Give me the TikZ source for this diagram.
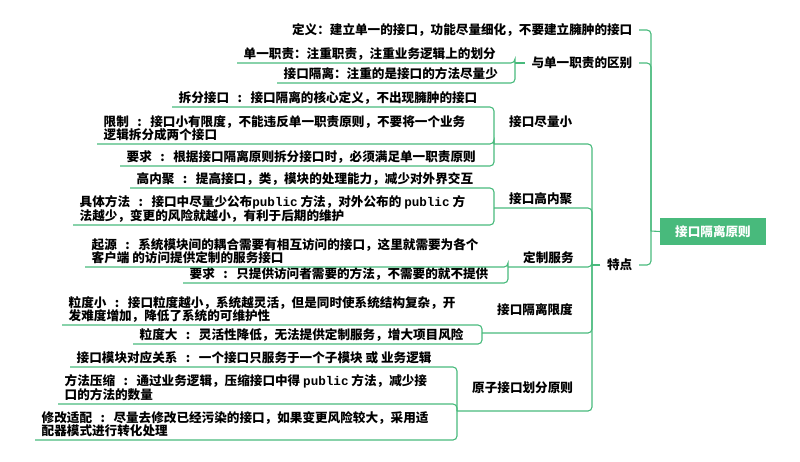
\documentclass[tikz,border=0pt]{standalone}
\usepackage{fontspec}
\usepackage{tikz}
\newfontfamily\cjkfont{Noto Sans CJK SC}
\newfontfamily\codefont{Liberation Mono}
\definecolor{mapgreen}{RGB}{72,186,124}
\newcommand{\mapfont}{\cjkfont\bfseries\fontsize{12.6}{13}\selectfont}
\newcommand{\tsep}{\makebox[1.7em]{:}}
\newcommand{\pub}{{\codefont\bfseries public}}
\tikzset{
  leaf/.style={font=\mapfont, anchor=south west, inner xsep=6.5pt, inner ysep=2.5pt, text depth=1.5pt, align=left},
  topic/.style={font=\mapfont, inner xsep=6.5pt, text height=10pt, text depth=2pt},
  link/.style={draw=mapgreen, line width=1.1pt, rounded corners=4pt},
  rootbox/.style={fill=mapgreen, text=white, font=\mapfont, minimum width=106pt, minimum height=27pt}
}

\begin{document}
\begin{tikzpicture}[x=1pt,y=-1pt]
    \useasboundingbox (0,0) rectangle (800,461);

    % root and first level
    \node[rootbox] (root) at (713,231.5) {接口隔离原则};
    \coordinate (R) at (651,231);
    \node[topic, anchor=east] (dingyi) at (639,30) {定义：建立单一的接口，功能尽量细化，不要建立臃肿的接口};
    \node[topic, anchor=east] (qubie) at (639,63) {与单一职责的区别};
    \node[topic, anchor=east] (tedian) at (639,265) {特点};

    % 与单一职责的区别
    \coordinate (Q) at (515,63);
    \node[leaf] (danyi) at (237,63) {单一职责：注重职责，注重业务逻辑上的划分};
    \node[leaf] (geli) at (277,83) {接口隔离：注重的是接口的方法尽量少};

    % 特点
    \coordinate (T) at (592,265);
    \coordinate (Jxiao) at (494,144);
    \coordinate (Jneiju) at (494,208);
    \coordinate (Jdingzhi) at (508,267);
    \coordinate (Jxiandu) at (482,333);
    \coordinate (Jyuanzi) at (457,411);
    \node[topic, anchor=west] (xiao) at (502.5,122) {接口尽量小};
    \node[topic, anchor=west] (neiju) at (502.5,199) {接口高内聚};
    \node[topic, anchor=west] (dingzhi) at (516.5,258) {定制服务};
    \node[topic, anchor=west] (xiandu) at (490.5,310) {接口隔离限度};
    \node[topic, anchor=west] (yuanzi) at (465.5,388) {原子接口划分原则};

    % leaves
    \node[leaf] (chaifen) at (172,107) {拆分接口\tsep 接口隔离的核心定义，不出现臃肿的接口};
    \node[leaf] (xianzhi) at (97,144) {限制\tsep 接口小有限度，不能违反单一职责原则，不要将一个业务\\逻辑拆分成两个接口};
    \node[leaf] (yaoqiu) at (120,166) {要求\tsep 根据接口隔离原则拆分接口时，必须满足单一职责原则};
    \node[leaf] (gaoneiju) at (130,188) {高内聚\tsep 提高接口，类，模块的处理能力，减少对外界交互};
    \node[leaf] (juti) at (73,225) {具体方法\tsep 接口中尽量少公布\pub\ 方法，对外公布的 \pub\ 方\\法越少，变更的风险就越小，有利于后期的维护};
    \node[leaf] (qiyuan) at (85,267) {起源\tsep 系统模块间的耦合需要有相互访问的接口，这里就需要为各个\\客户端 的访问提供定制的服务接口};
    \node[leaf] (fangwen) at (183,283) {要求\tsep 只提供访问者需要的方法，不需要的就不提供};
    \node[leaf] (liduxiao) at (62,325) {粒度小\tsep 接口粒度越小，系统越灵活，但是同时使系统结构复杂，开\\发难度增加，降低了系统的可维护性};
    \node[leaf] (liduda) at (133,344) {粒度大\tsep 灵活性降低，无法提供定制服务，增大项目风险};
    \node[leaf] (mokuai) at (70,367) {接口模块对应关系\tsep 一个接口只服务于一个子模块 或 业务逻辑};
    \node[leaf] (yasuo) at (58,404) {方法压缩\tsep 通过业务逻辑，压缩接口中得 \pub\ 方法，减少接\\口的方法的数量};
    \node[leaf] (shipei) at (35,440) {修改适配\tsep 尽量去修改已经污染的接口，如果变更风险较大，采用适\\配器模式进行转化处理};

    % connectors
    \draw[link] (root.west) -- (R);
    \draw[link] (R) |- (dingyi.east);
    \draw[link] (R) |- (qubie.east);
    \draw[link] (R) |- (tedian.east);
    \draw[link] (qubie.west) -- (Q);
    \draw[link] (Q) |- (danyi.south west);
    \draw[link] (Q) |- (geli.south west);
    \draw[link] (tedian.west) -- (T);
    \draw[link] (T) |- (Jxiao);
    \draw[link] (T) |- (Jneiju);
    \draw[link] (T) |- (Jdingzhi);
    \draw[link] (T) |- (Jxiandu);
    \draw[link] (T) |- (Jyuanzi);
    \draw[link] (Jxiao) |- (chaifen.south west);
    \draw[link] (Jxiao) |- (xianzhi.south west);
    \draw[link] (Jxiao) |- (yaoqiu.south west);
    \draw[link] (Jneiju) |- (gaoneiju.south west);
    \draw[link] (Jneiju) |- (juti.south west);
    \draw[link] (Jdingzhi) |- (qiyuan.south west);
    \draw[link] (Jdingzhi) |- (fangwen.south west);
    \draw[link] (Jxiandu) |- (liduxiao.south west);
    \draw[link] (Jxiandu) |- (liduda.south west);
    \draw[link] (Jyuanzi) |- (mokuai.south west);
    \draw[link] (Jyuanzi) |- (yasuo.south west);
    \draw[link] (Jyuanzi) |- (shipei.south west);
\end{tikzpicture}
\end{document}
